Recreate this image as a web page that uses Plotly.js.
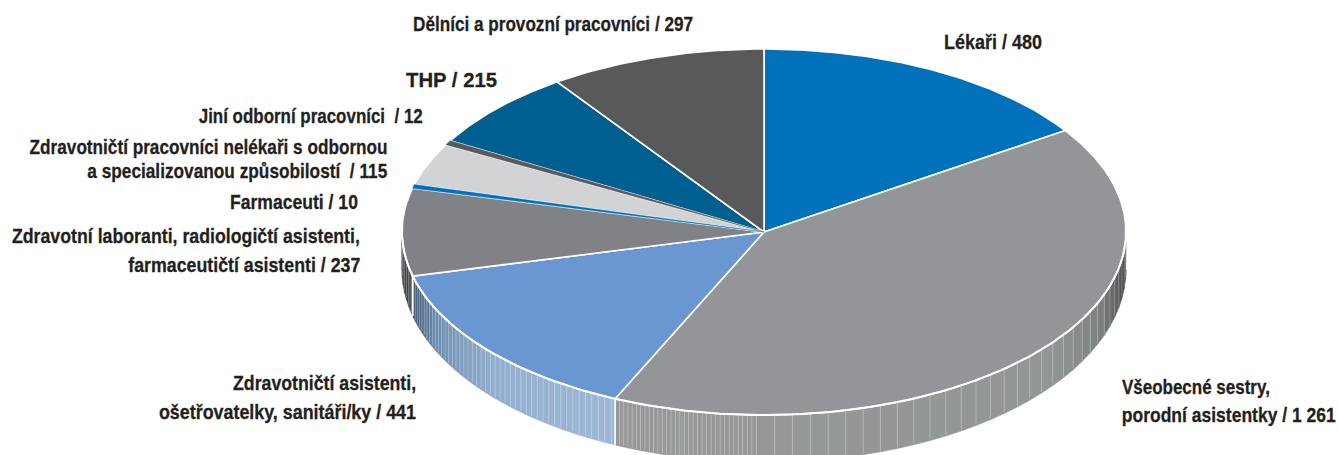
<!DOCTYPE html>
<html><head><meta charset="utf-8">
<script src="https://cdn.plot.ly/plotly-3.0.1.min.js"></script>
<style>html,body{margin:0;padding:0;background:#fff}#c{width:1338px;height:455px}</style>
</head><body><div id="c"></div>
<script>
const categories=["Lékaři","Všeobecné sestry, porodní asistentky","Zdravotničtí asistenti, ošetřovatelky, sanitáři/ky","Zdravotní laboranti, radiologičtí asistenti, farmaceutičtí asistenti","Farmaceuti","Zdravotničtí pracovníci nelékaři s odbornou a specializovanou způsobilostí","Jiní odborní pracovníci","THP","Dělníci a provozní pracovníci"];
const values=[480,1261,441,237,10,115,12,215,297];
const valueLabels=["480","1 261","441","237","10","115","12","215","297"];
const labelLines=[["Lékaři / "],["Všeobecné sestry,","porodní asistentky / "],["Zdravotničtí asistenti,","ošetřovatelky, sanitáři/ky / "],["Zdravotní laboranti, radiologičtí asistenti,","farmaceutičtí asistenti / "],["Farmaceuti / "],["Zdravotničtí pracovníci nelékaři s odbornou","a specializovanou způsobilostí\u00a0 / "],["Jiní odborní pracovníci\u00a0 / "],["THP / "],["Dělníci a provozní pracovníci / "]];
const colors=["#0072bc","#939598","#6a96d1","#808285","#0072bc","#d1d3d4","#58595b","#005f91","#58595b"];
// label anchors: [[x per line], anchor, [y per line], [rendered width per line]]
const labelPos=[[[942],"left",[41],[98]],[[1272,1338],"right",[386,414],[148,214]],[[418,418],"right",[382,411],[183,257]],[[362,362],"right",[235,264],[348,232]],[[360],"right",[201],[128]],[[390,390],"right",[146,170],[358,300]],[[425],"right",[115],[224]],[[404],"left",[79],[91]],[[411],"left",[23],[280]]];

const cx=764,cy=232,rx=362,ry=183;
const rad=d=>d*Math.PI/180;
const px=t=>cx+rx*Math.sin(rad(t));
const py=t=>cy-ry*Math.cos(rad(t));
const depth=t=>37.5+9.5*Math.max(0,-Math.cos(rad(t)));
const total=values.reduce((a,b)=>a+b,0);
let cum=0;
const bounds=values.map(v=>{const s=cum/total*360;cum+=v;return [s,cum/total*360];});

function lerpStops(stops,u){
  for(let i=1;i<stops.length;i++){
    if(u<=stops[i][0]){
      const a=stops[i-1],b=stops[i],f=(u-a[0])/(b[0]-a[0]||1);
      return "rgb("+[0,1,2].map(k=>Math.round(a[1][k]+(b[1][k]-a[1][k])*f)).join(",")+")";
    }
  }
  return "rgb("+stops[stops.length-1][1].join(",")+")";
}
function wallColor(t){
  if(t<=bounds[1][1]) return lerpStops([[90,[44,46,47]],[100,[84,86,86]],[112,[125,128,128]],[128,[146,150,149]],[204.1,[150,153,152]]],t);
  if(t<=bounds[2][1]) return lerpStops([[bounds[1][1],[157,184,214]],[228,[146,174,207]],[245,[108,140,175]],[256,[58,80,104]]],t);
  return lerpStops([[256,[85,87,89]],[264,[48,50,52]],[270,[36,38,40]]],t);
}
const traces=[];
// side wall strips
const seams=[];
{
  let t=90;
  while(t<270){
    let step = t<180?2.85 : t<bounds[1][1]?0.72 : t<bounds[2][1]?1.15 : 2.2;
    const e=Math.min(270,t+step);
    const xs=[],ys=[];
    const n=3;
    for(let i=0;i<=n;i++){const a=t+(e-t)*i/n;xs.push(px(a));ys.push(py(a));}
    for(let i=n;i>=0;i--){const a=t+(e-t)*i/n;xs.push(px(a));ys.push(py(a)+depth(a));}
    const col=wallColor((t+e)/2);
    traces.push({type:"scatter",mode:"lines",x:xs,y:ys,fill:"toself",fillcolor:col,line:{color:col,width:0.6},hoverinfo:"skip",showlegend:false});
    seams.push(e);
    t=e;
  }
}
const sx=[],sy=[];
seams.forEach(a=>{ if(a<270){sx.push(px(a),px(a),null);sy.push(py(a),py(a)+depth(a)*0.97,null);} });
traces.push({type:"scatter",mode:"lines",x:sx,y:sy,line:{color:"rgba(255,255,255,0.25)",width:1},hoverinfo:"skip",showlegend:false});
// dividing line on the wall between slices
[bounds[1][1],bounds[2][1]].forEach(a=>{
  traces.push({type:"scatter",mode:"lines",x:[px(a),px(a)],y:[py(a),py(a)+depth(a)],line:{color:"#fff",width:1.6},hoverinfo:"skip",showlegend:false});
});
// top slices, from the values; the thinnest ones are drawn last so their colour survives
const order=values.map((v,i)=>i).sort((a,b)=>(values[a]<20)-(values[b]<20));
order.forEach(i=>{
  const [s,e]=bounds[i];
  const thin=values[i]<20;
  const xs=[cx],ys=[cy];
  const n=Math.max(4,Math.ceil((e-s)*2));
  for(let k=0;k<=n;k++){const a=s+(e-s)*k/n;xs.push(px(a));ys.push(py(a));}
  xs.push(cx);ys.push(cy);
  traces.push({type:"scatter",mode:"lines",name:categories[i],x:xs,y:ys,fill:"toself",fillcolor:colors[i],
    line:{color:thin?colors[i]:"#fff",width:thin?0.4:1.6},text:categories[i]+" / "+valueLabels[i],hoverinfo:"text",showlegend:false});
});
// white rim along the front edge
{
  const xs=[],ys=[];
  for(let a=88;a<=272;a+=1){xs.push(px(a));ys.push(py(a));}
  traces.push({type:"scatter",mode:"lines",x:xs,y:ys,line:{color:"#fff",width:2},hoverinfo:"skip",showlegend:false});
}
const annotations=[],widths=[];
labelLines.forEach((lines,i)=>{
  const [xl,anchor,ys,ws]=labelPos[i];
  lines.forEach((ln,j)=>{
    const text=ln.endsWith("/ ")?ln+valueLabels[i]:ln;
    widths.push(ws[j]);
    annotations.push({xref:"x",yref:"y",x:xl[j],y:ys[j],text:text,showarrow:false,xanchor:anchor,yanchor:"middle",align:anchor,
      font:{family:"'Liberation Sans',sans-serif",size:21,color:"#231f20",weight:700}});
  });
});
function fit(){
  document.querySelectorAll("#c .annotation-text").forEach((el,i)=>{
    el.setAttribute("textLength",widths[i]);
    el.setAttribute("lengthAdjust","spacingAndGlyphs");
    el.style.stroke="#231f20";
    el.style.strokeWidth="0.3px";
  });
}
Plotly.newPlot("c",traces,{
  width:1338,height:455,margin:{l:0,r:0,t:0,b:0},paper_bgcolor:"#fff",plot_bgcolor:"#fff",showlegend:false,
  xaxis:{range:[0,1338],visible:false,fixedrange:true},
  yaxis:{range:[455,0],visible:false,fixedrange:true},
  annotations:annotations
},{staticPlot:true,displayModeBar:false}).then(fit);
</script></body></html>
